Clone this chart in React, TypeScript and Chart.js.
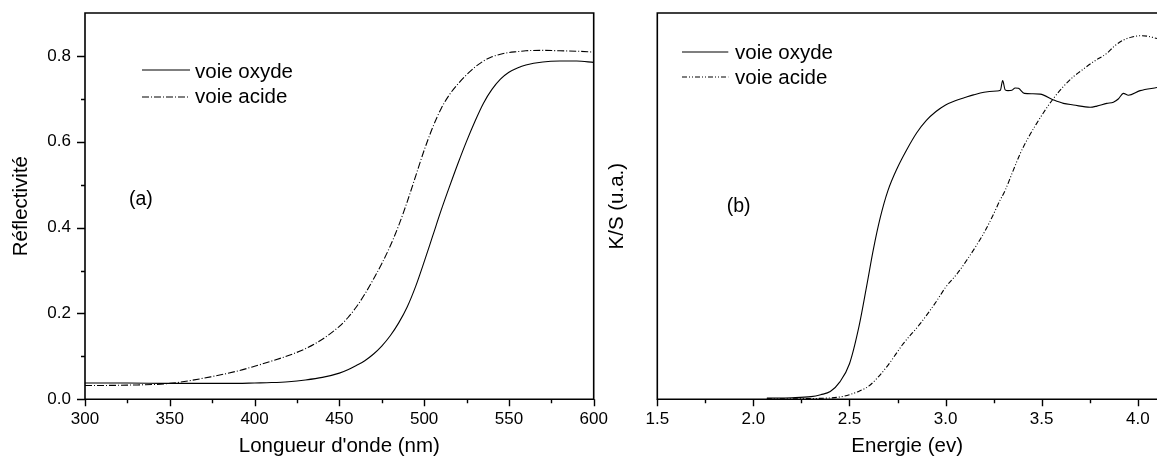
import React, { useEffect, useRef } from 'react';
import { Chart, registerables } from 'chart.js';

Chart.register(...registerables);

// ---------- data : panel (a) ----------
const wavelength = [300, 325, 350, 375, 390, 400, 410, 420, 430, 440, 450, 455, 460, 465, 470, 475, 480, 485, 490, 495, 500, 505, 510, 515, 520, 525, 530, 535, 540, 545, 550, 555, 560, 570, 580, 590, 600];
const reflOxyde = [0.038, 0.038, 0.037, 0.037, 0.037, 0.038, 0.039, 0.041, 0.045, 0.051, 0.061, 0.069, 0.079, 0.090, 0.105, 0.124, 0.148, 0.178, 0.215, 0.263, 0.320, 0.380, 0.440, 0.496, 0.550, 0.601, 0.648, 0.690, 0.722, 0.746, 0.762, 0.772, 0.779, 0.786, 0.788, 0.788, 0.785];
const reflAcide = [0.032, 0.033, 0.037, 0.053, 0.066, 0.077, 0.089, 0.102, 0.118, 0.140, 0.170, 0.190, 0.215, 0.245, 0.279, 0.316, 0.357, 0.405, 0.460, 0.520, 0.580, 0.633, 0.677, 0.710, 0.735, 0.756, 0.774, 0.788, 0.798, 0.804, 0.808, 0.810, 0.812, 0.813, 0.812, 0.811, 0.809];

// ---------- data : panel (b) ----------
const energyOxyde = [2.07, 2.2, 2.3, 2.35, 2.4, 2.45, 2.5, 2.55, 2.59, 2.625, 2.66, 2.7, 2.75, 2.8, 2.85, 2.9, 2.95, 3.0, 3.05, 3.1, 3.145, 3.2, 3.266, 3.285, 3.297, 3.31, 3.325, 3.345, 3.362, 3.379, 3.41, 3.45, 3.492, 3.561, 3.613, 3.665, 3.752, 3.787, 3.839, 3.873, 3.9, 3.925, 3.951, 4.012, 4.1];
const ksOxyde = [0.003, 0.004, 0.007, 0.012, 0.020, 0.045, 0.092, 0.190, 0.295, 0.390, 0.470, 0.540, 0.600, 0.648, 0.690, 0.722, 0.745, 0.762, 0.773, 0.781, 0.788, 0.795, 0.798, 0.800, 0.825, 0.801, 0.799, 0.800, 0.806, 0.805, 0.792, 0.791, 0.790, 0.775, 0.766, 0.762, 0.756, 0.759, 0.766, 0.769, 0.778, 0.792, 0.787, 0.799, 0.807];
const energyAcide = [2.07, 2.3, 2.38, 2.45, 2.5, 2.55, 2.6, 2.65, 2.7, 2.78, 2.87, 2.95, 3.0, 3.06, 3.11, 3.16, 3.21, 3.25, 3.28, 3.31, 3.35, 3.39, 3.43, 3.47, 3.52, 3.56, 3.61, 3.665, 3.72, 3.77, 3.84, 3.88, 3.925, 3.97, 4.01, 4.05, 4.1];
const ksAcide = [0.001, 0.002, 0.003, 0.006, 0.012, 0.021, 0.034, 0.058, 0.088, 0.144, 0.197, 0.252, 0.290, 0.325, 0.360, 0.398, 0.440, 0.480, 0.512, 0.541, 0.590, 0.638, 0.677, 0.711, 0.750, 0.778, 0.808, 0.835, 0.856, 0.874, 0.896, 0.915, 0.930, 0.938, 0.941, 0.940, 0.934];

// ---------- ticks & labels ----------
const wavelengthTicks = [300, 350, 400, 450, 500, 550, 600];
const reflTicks = [0.0, 0.2, 0.4, 0.6, 0.8];
const energyTicks = [1.5, 2.0, 2.5, 3.0, 3.5, 4.0];
const seriesNames = ['voie oxyde', 'voie acide'];
const panelLabels = ['(a)', '(b)'];
const axisTitles = ["Longueur d'onde (nm)", 'Réflectivité', 'Energie (ev)', 'K/S (u.a.)'];

const FONT = "'Liberation Sans', Arial, Helvetica, sans-serif";
const TICK_FONT = { family: FONT, size: 17 };
const TITLE_FONT = { family: FONT, size: 20.5, lineHeight: 1 };

const framePlugin = {
  id: 'frame',
  afterDraw(chart: any, _args: any, opts: any) {
    const { ctx, chartArea: a, scales } = chart;
    ctx.save();
    ctx.strokeStyle = '#000';
    ctx.lineCap = 'square';
    ctx.lineWidth = 1.6;
    ctx.beginPath();
    ctx.moveTo(a.left, a.bottom);
    ctx.lineTo(a.left, a.top);
    ctx.lineTo(a.right, a.top);
    if (opts.right) ctx.lineTo(a.right, a.bottom);
    ctx.moveTo(a.left, a.bottom);
    ctx.lineTo(a.right, a.bottom);
    ctx.stroke();

    ctx.lineCap = 'butt';
    ctx.lineWidth = 1.4;
    ctx.beginPath();
    const xs = scales.x;
    const xv = xs.ticks.map((t: any) => t.value);
    const xstep = xv[1] - xv[0];
    xv.forEach((v: number) => {
      const p = Math.round(xs.getPixelForValue(v)) + 0.5;
      ctx.moveTo(p, a.bottom);
      ctx.lineTo(p, a.bottom + 7);
    });
    xv.forEach((v: number) => {
      const m = v + xstep / 2;
      if (m < xs.max) {
        const p = Math.round(xs.getPixelForValue(m)) + 0.5;
        ctx.moveTo(p, a.bottom);
        ctx.lineTo(p, a.bottom + 4);
      }
    });
    if (opts.yTicks) {
      const ys = scales.y;
      const yv = ys.ticks.map((t: any) => t.value);
      const ystep = yv[1] - yv[0];
      yv.forEach((v: number) => {
        const p = Math.round(ys.getPixelForValue(v)) + 0.5;
        ctx.moveTo(a.left, p);
        ctx.lineTo(a.left - 8, p);
      });
      yv.forEach((v: number) => {
        const m = v + ystep / 2;
        if (m < ys.max) {
          const p = Math.round(ys.getPixelForValue(m)) + 0.5;
          ctx.moveTo(a.left, p);
          ctx.lineTo(a.left - 4, p);
        }
      });
    }
    ctx.stroke();
    ctx.restore();
  },
};

function pts(xs: number[], ys: number[]) {
  return xs.map((x, i) => ({ x, y: ys[i] }));
}

const hiddenGrid = {
  display: true,
  drawOnChartArea: false,
  drawTicks: true,
  tickColor: 'rgba(0,0,0,0)',
};

export default function App() {
  const leftRef = useRef<HTMLCanvasElement>(null);
  const rightRef = useRef<HTMLCanvasElement>(null);

  useEffect(() => {
    const left = new Chart(leftRef.current as HTMLCanvasElement, {
      type: 'line',
      data: {
        datasets: [
          {
            label: seriesNames[0],
            data: pts(wavelength, reflOxyde),
            borderColor: '#000',
            borderWidth: 1.1,
            pointRadius: 0,
            cubicInterpolationMode: 'monotone',
          },
          {
            label: seriesNames[1],
            data: pts(wavelength, reflAcide),
            borderColor: '#000',
            borderWidth: 1.1,
            borderDash: [7, 2, 1, 2],
            pointRadius: 0,
            cubicInterpolationMode: 'monotone',
          },
        ],
      },
      options: {
        animation: false,
        responsive: false,
        events: [],
        layout: { padding: { top: 13, left: 0, right: 620 - 593.7, bottom: 0 } },
        plugins: { legend: { display: false }, tooltip: { enabled: false }, frame: { right: true, yTicks: true } } as any,
        scales: {
          x: {
            type: 'linear',
            min: 300,
            max: 600,
            border: { display: false },
            grid: { ...hiddenGrid, tickLength: 7 },
            afterBuildTicks: (s: any) => { s.ticks = wavelengthTicks.map((v) => ({ value: v })); },
            afterFit: (s: any) => { s.height = 457 - 399.3; },
            ticks: { autoSkip: false, maxRotation: 0, color: '#000', font: TICK_FONT, padding: 3, callback: (v: any) => String(v) },
            title: { display: true, text: axisTitles[0], color: '#000', font: TITLE_FONT, padding: { top: 0, bottom: 0.75 } },
          },
          y: {
            type: 'linear',
            min: 0,
            max: 0.9,
            border: { display: false },
            grid: { ...hiddenGrid, tickLength: 8 },
            afterBuildTicks: (s: any) => { s.ticks = reflTicks.map((v) => ({ value: v })); },
            afterFit: (s: any) => { s.width = 85; s.paddingTop = 0; s.paddingBottom = 0; },
            ticks: { autoSkip: false, color: '#000', font: TICK_FONT, padding: 6, callback: (v: any) => Number(v).toFixed(1) },
            title: { display: true, text: axisTitles[1], color: '#000', font: TITLE_FONT, padding: { top: 11.5, bottom: 0 } },
          },
        },
      } as any,
      plugins: [framePlugin],
    });

    const right = new Chart(rightRef.current as HTMLCanvasElement, {
      type: 'line',
      data: {
        datasets: [
          {
            label: seriesNames[0],
            data: pts(energyOxyde, ksOxyde),
            borderColor: '#000',
            borderWidth: 1.1,
            pointRadius: 0,
            cubicInterpolationMode: 'monotone',
          },
          {
            label: seriesNames[1],
            data: pts(energyAcide, ksAcide),
            borderColor: '#000',
            borderWidth: 1.1,
            borderDash: [5, 2, 1, 2, 1, 2],
            pointRadius: 0,
            cubicInterpolationMode: 'monotone',
          },
        ],
      },
      options: {
        animation: false,
        responsive: false,
        events: [],
        layout: { padding: { top: 13, left: 0, right: 0, bottom: 0 } },
        plugins: { legend: { display: false }, tooltip: { enabled: false }, frame: { right: false, yTicks: false } } as any,
        scales: {
          x: {
            type: 'linear',
            min: 1.5,
            max: 4.1,
            border: { display: false },
            grid: { ...hiddenGrid, tickLength: 7 },
            afterBuildTicks: (s: any) => { s.ticks = energyTicks.map((v) => ({ value: v })); },
            afterFit: (s: any) => { s.height = 457 - 399.3; },
            ticks: { autoSkip: false, maxRotation: 0, color: '#000', font: TICK_FONT, padding: 3, callback: (v: any) => Number(v).toFixed(1) },
            title: { display: true, text: axisTitles[2], color: '#000', font: TITLE_FONT, padding: { top: 0, bottom: 0.75 } },
          },
          y: {
            type: 'linear',
            min: 0,
            max: 1,
            border: { display: false },
            grid: { display: false },
            afterFit: (s: any) => { s.width = 57.3; s.paddingTop = 0; s.paddingBottom = 0; },
            ticks: { display: false },
            title: { display: true, text: axisTitles[3], color: '#000', font: TITLE_FONT, padding: { top: 6.75, bottom: 0 } },
          },
        },
      } as any,
      plugins: [framePlugin],
    });

    return () => {
      left.destroy();
      right.destroy();
    };
  }, []);

  const textStyle = (left: number, top: number, size: number): React.CSSProperties => ({
    position: 'absolute',
    left,
    top,
    fontFamily: FONT,
    fontSize: size,
    lineHeight: 1,
    color: '#000',
    whiteSpace: 'nowrap',
  });

  const sample = (left: number, y: number, width: number, dash?: string) => (
    <svg style={{ position: 'absolute', left, top: y - 5, overflow: 'visible' }} width={width} height={10}>
      <line x1={0} y1={5} x2={width} y2={5} stroke="#000" strokeWidth={1.1} strokeDasharray={dash} />
    </svg>
  );

  return (
    <div style={{ position: 'fixed', left: 0, top: 0, width: 1157, height: 457, overflow: 'hidden', background: '#fff' }}>
      <canvas ref={leftRef} width={620} height={457} style={{ position: 'absolute', left: 0, top: 0, display: 'block' }} />
      <canvas ref={rightRef} width={557} height={457} style={{ position: 'absolute', left: 600, top: 0, display: 'block' }} />

      {sample(142, 70, 48)}
      <div style={textStyle(195, 61.3, 20.5)}>{seriesNames[0]}</div>
      {sample(142, 96.7, 48, '7 2 1 2')}
      <div style={textStyle(195, 86, 20.5)}>{seriesNames[1]}</div>
      <div style={textStyle(129, 188.5, 19.5)}>{panelLabels[0]}</div>

      {sample(681.7, 51.7, 46.3)}
      <div style={textStyle(735, 42, 20.5)}>{seriesNames[0]}</div>
      {sample(681.7, 77.3, 46.3, '5 2 1 2 1 2')}
      <div style={textStyle(735, 66.7, 20.5)}>{seriesNames[1]}</div>
      <div style={textStyle(726.7, 196, 19.5)}>{panelLabels[1]}</div>
    </div>
  );
}
